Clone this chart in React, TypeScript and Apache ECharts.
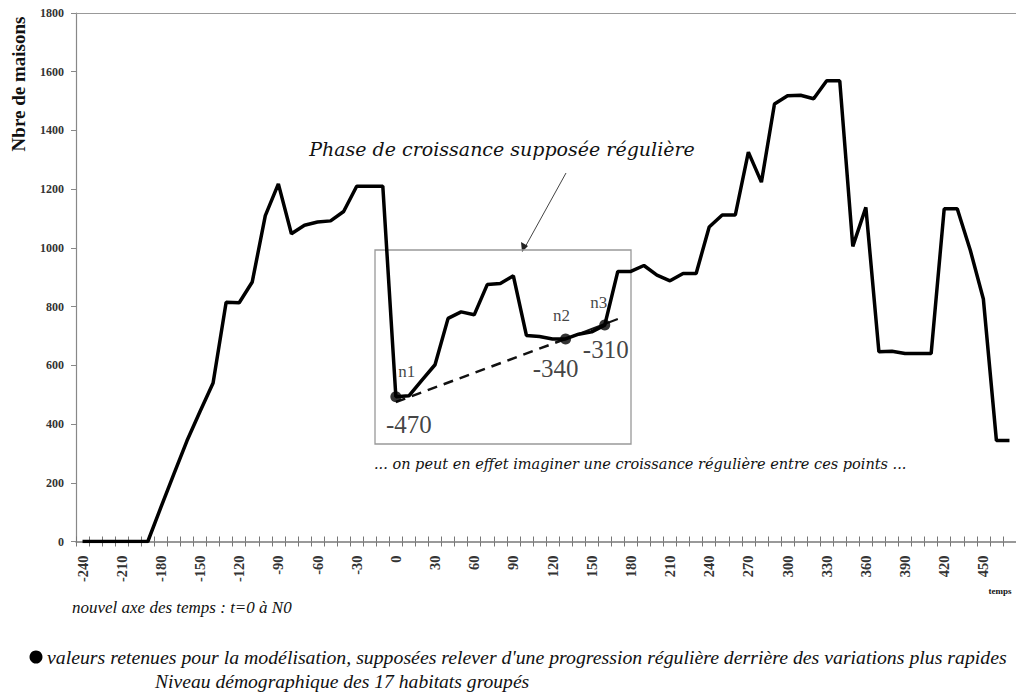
import React, { useEffect, useRef } from "react";
import * as echarts from "echarts";

const categories: string[] = [
  "-240", "-230", "-220", "-210", "-200", "-190", "-180", "-170", "-160", "-150",
  "-140", "-130", "-120", "-110", "-100", "-90", "-80", "-70", "-60", "-50",
  "-40", "-30", "-20", "-10", "0", "10", "20", "30", "40", "50",
  "60", "70", "80", "90", "100", "110", "120", "130", "140", "150",
  "160", "170", "180", "190", "200", "210", "220", "230", "240", "250",
  "260", "270", "280", "290", "300", "310", "320", "330", "340", "350",
  "360", "370", "380", "390", "400", "410", "420", "430", "440", "450",
  "460", "470",
];

const maisons: number[] = [
  0, 0, 0, 0, 0, 0, 116, 230, 343, 443,
  540, 815, 813, 884, 1110, 1218, 1048, 1077, 1088, 1092,
  1124, 1210, 1210, 1210, 493, 496, 550, 602, 760, 782,
  772, 875, 879, 905, 702, 698, 690, 690, 706, 714,
  737, 920, 920, 940, 907, 888, 913, 913, 1071, 1112,
  1112, 1326, 1224, 1490, 1518, 1520, 1508, 1569, 1569, 1005,
  1138, 646, 648, 640, 640, 640, 1133, 1133, 992, 826,
  344, 344,
];

// retained points (modelling)
const pointCats: string[] = ["0", "130", "160"];
const pointVals: number[] = [493, 690, 737];
const pointNames: string[] = ["n1", "n2", "n3"];
const pointTimes: string[] = ["-470", "-340", "-310"];

// trend line (dashed part then solid part)
const trendDashCats: string[] = ["0", "130"];
const trendDashVals: number[] = [475, 690];
const trendSolidCats: string[] = ["130", "170"];
const trendSolidVals: number[] = [690, 758];

const yTicks = { min: 0, max: 1800, interval: 200 };

const nameOffsets: number[][] = [[11, -6], [-4, -4], [-6, -4]];
const timeOffsets: number[][] = [[13, 28], [-10, 30], [1, 24]];

export default function App() {
  const ref = useRef<HTMLDivElement>(null);
  useEffect(() => {
    if (!ref.current) return;
    const chart = echarts.init(ref.current, null, { renderer: "svg" });
    const serif = "'Liberation Serif', 'Times New Roman', serif";
    const slab = "'DejaVu Serif', serif";
    const axisLabelStyle = {
      fontFamily: serif,
      fontWeight: "bold" as const,
      color: "#333",
    };
    const option: any = {
      animation: false,
      backgroundColor: "#fff",
      grid: { left: 76, top: 13, width: 941, height: 528.5, containLabel: false },
      xAxis: [
        {
          type: "category",
          data: categories,
          boundaryGap: true,
          position: "bottom",
          axisLine: { show: true, lineStyle: { color: "#777", width: 1.5 } },
          axisTick: { show: true, interval: 0, length: 5, inside: false, lineStyle: { color: "#777" } },
          axisLabel: { ...axisLabelStyle, interval: 2, rotate: 90, fontSize: 14.5, margin: 14 },
          splitLine: { show: false },
        },
        {
          type: "category",
          data: categories,
          boundaryGap: true,
          position: "bottom",
          axisLine: { show: false },
          axisTick: { show: true, interval: 0, length: 5, inside: true, lineStyle: { color: "#777" } },
          axisLabel: { show: false },
          splitLine: { show: false },
        },
        {
          type: "category",
          data: categories,
          position: "top",
          axisLine: { show: true, lineStyle: { color: "#999", width: 1 } },
          axisTick: { show: false },
          axisLabel: { show: false },
          splitLine: { show: false },
        },
      ],
      yAxis: {
        type: "value",
        min: yTicks.min,
        max: yTicks.max,
        interval: yTicks.interval,
        axisLine: { show: true, lineStyle: { color: "#888", width: 1.2 } },
        axisTick: { show: true, length: 5, lineStyle: { color: "#888" } },
        axisLabel: {
          ...axisLabelStyle,
          fontSize: 12,
          margin: 12,
          formatter: (v: number) => String(v),
        },
        splitLine: { show: false },
      },
      series: [
        {
          type: "line",
          data: maisons,
          symbol: "none",
          lineStyle: { color: "#000", width: 3.5 },
          z: 3,
        },
        {
          type: "line",
          data: trendDashCats.map((c, i) => [c, trendDashVals[i]]),
          symbol: "none",
          lineStyle: { color: "#111", width: 2.5, type: [10, 7] },
          z: 2,
        },
        {
          type: "line",
          data: trendSolidCats.map((c, i) => [c, trendSolidVals[i]]),
          symbol: "none",
          lineStyle: { color: "#111", width: 2 },
          z: 2,
        },
        {
          type: "scatter",
          data: pointCats.map((c, i) => ({
            value: [c, pointVals[i]],
            label: { offset: nameOffsets[i] },
          })),
          symbol: "circle",
          symbolSize: 11,
          itemStyle: { color: "#000" },
          label: {
            show: true,
            position: "top",
            formatter: (p: any) => pointNames[p.dataIndex],
            fontFamily: serif,
            fontSize: 17,
            color: "#111",
          },
          z: 4,
        },
        {
          type: "scatter",
          data: pointCats.map((c, i) => ({
            value: [c, pointVals[i]],
            label: { offset: timeOffsets[i] },
          })),
          symbolSize: 0,
          itemStyle: { color: "transparent" },
          label: {
            show: true,
            position: "inside",
            formatter: (p: any) => pointTimes[p.dataIndex],
            fontFamily: serif,
            fontSize: 25,
            color: "#111",
          },
          z: 4,
        },
      ],
      graphic: [
        {
          type: "rect",
          shape: { x: 375, y: 250, width: 256, height: 194 },
          style: { fill: "none", stroke: "#999", lineWidth: 1.3 },
          z: 1,
        },
        {
          type: "text",
          x: 502,
          y: 149,
          style: {
            text: "Phase de croissance supposée régulière",
            fontFamily: slab,
            fontStyle: "italic",
            fontSize: 19,
            fill: "#111",
            align: "center",
            verticalAlign: "middle",
          },
        },
        {
          type: "line",
          shape: { x1: 566, y1: 173, x2: 524, y2: 249 },
          style: { stroke: "#444", lineWidth: 1 },
        },
        {
          type: "polygon",
          shape: { points: [[522, 252], [521, 242], [528, 246]] },
          style: { fill: "#222" },
        },
        {
          type: "text",
          x: 374,
          y: 464,
          style: {
            text: "... on peut en effet imaginer une croissance régulière entre ces points ...",
            fontFamily: slab,
            fontStyle: "italic",
            fontSize: 14.5,
            fill: "#111",
            align: "left",
            verticalAlign: "middle",
          },
        },
        {
          type: "text",
          x: 72,
          y: 607,
          style: {
            text: "nouvel axe des temps : t=0 à N0",
            fontFamily: serif,
            fontStyle: "italic",
            fontSize: 17,
            fill: "#111",
            align: "left",
            verticalAlign: "middle",
          },
        },
        {
          type: "circle",
          shape: { cx: 36, cy: 657, r: 6.5 },
          style: { fill: "#000" },
        },
        {
          type: "text",
          x: 47,
          y: 657,
          style: {
            text: "valeurs retenues pour la modélisation, supposées relever d'une progression régulière derrière des variations plus rapides",
            fontFamily: serif,
            fontStyle: "italic",
            fontSize: 19.8,
            fill: "#111",
            align: "left",
            verticalAlign: "middle",
          },
        },
        {
          type: "text",
          x: 155,
          y: 681,
          style: {
            text: "Niveau démographique des 17 habitats groupés",
            fontFamily: serif,
            fontStyle: "italic",
            fontSize: 19.6,
            fill: "#111",
            align: "left",
            verticalAlign: "middle",
          },
        },
        {
          type: "text",
          x: 18,
          y: 84,
          rotation: Math.PI / 2,
          style: {
            text: "Nbre de maisons",
            fontFamily: serif,
            fontWeight: "bold",
            fontSize: 19,
            fill: "#111",
            align: "center",
            verticalAlign: "middle",
          },
        },
        {
          type: "text",
          x: 1000,
          y: 591,
          style: {
            text: "temps",
            fontFamily: serif,
            fontWeight: "bold",
            fontSize: 9,
            fill: "#111",
            align: "center",
            verticalAlign: "middle",
          },
        },
      ],
    };
    chart.setOption(option);
    return () => chart.dispose();
  }, []);
  return (
    <div
      ref={ref}
      style={{ position: "fixed", left: 0, top: 0, width: 1016, height: 698 }}
    />
  );
}
